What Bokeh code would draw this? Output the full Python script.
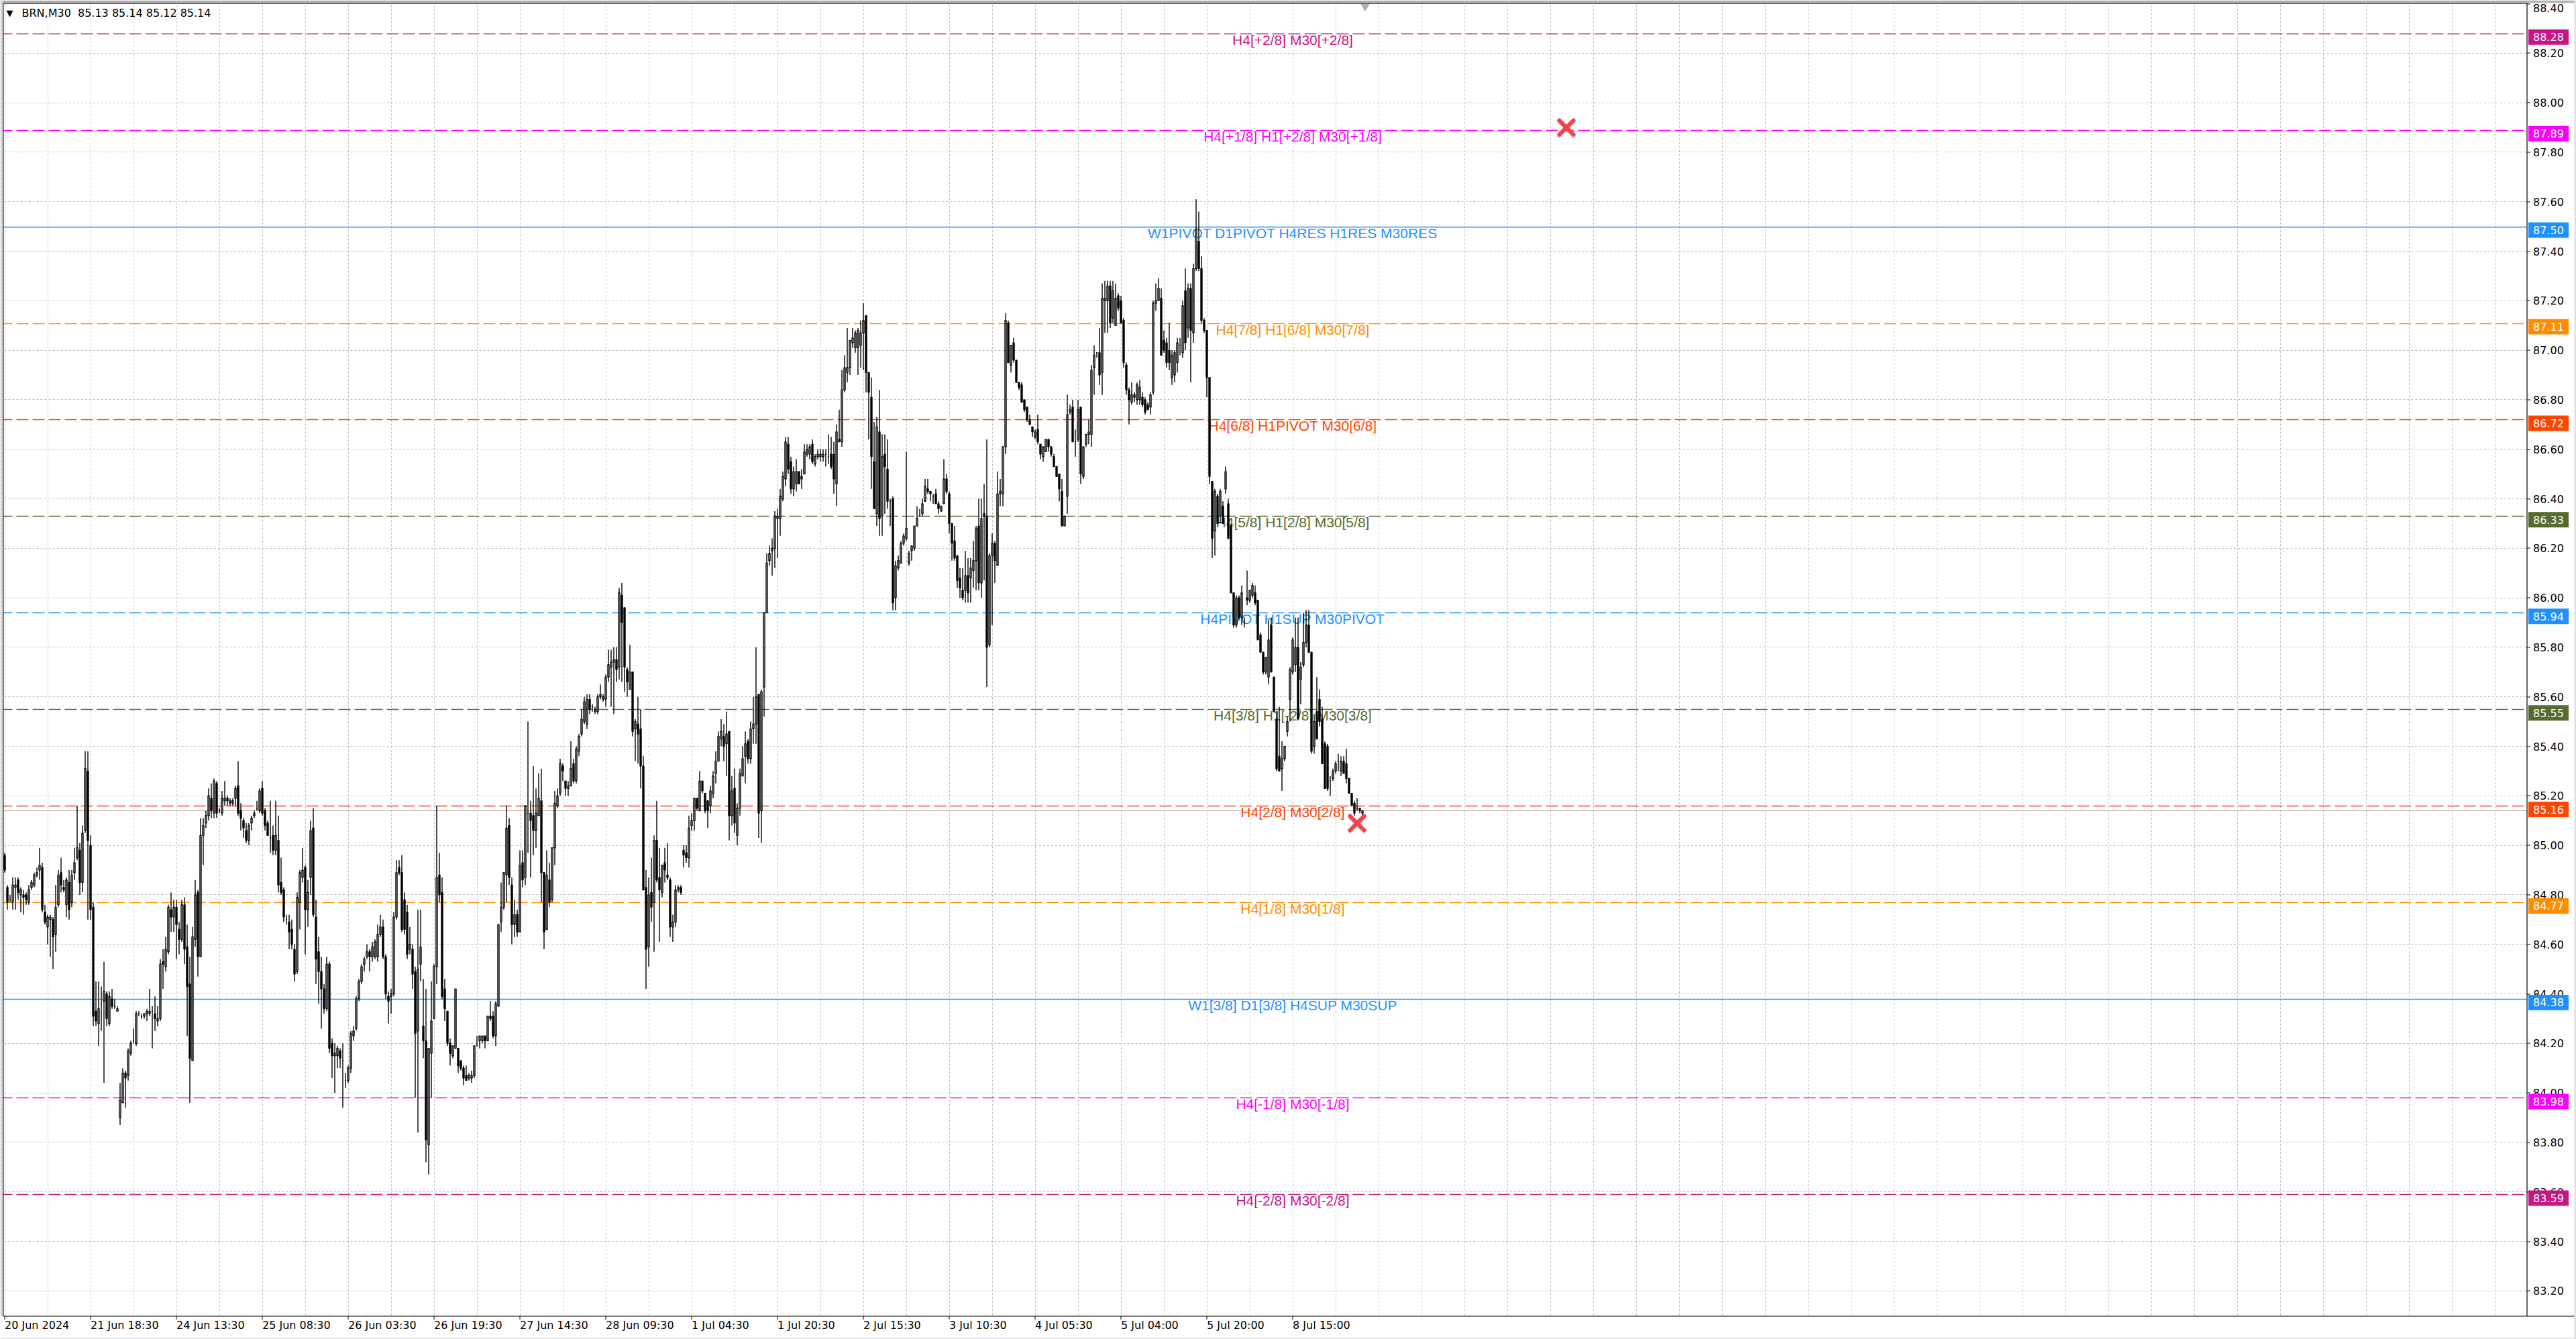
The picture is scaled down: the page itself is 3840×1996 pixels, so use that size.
from bokeh.plotting import figure
from bokeh.models import Range1d, FixedTicker, Grid, ColumnDataSource
from bokeh.core.properties import value
from bokeh.embed import file_html
from bokeh.resources import INLINE
import math

# ---------------- data (BRN, M30) ----------------
open_prices = [
    84.96, 84.83, 84.78, 84.77, 84.83, 84.86, 84.80, 84.80, 84.80, 84.77,
    84.83, 84.84, 84.88, 84.90, 84.91, 84.73, 84.67, 84.70, 84.70, 84.64,
    84.76, 84.89, 84.83, 84.76, 84.85, 84.77, 84.89, 84.95, 84.98, 84.85,
    85.06, 85.30, 85.00, 84.75, 84.33, 84.28, 84.36, 84.37, 84.40, 84.28,
    84.38, 84.35, 84.33, 83.90, 83.96, 84.08, 84.07, 84.16, 84.21, 84.20,
    84.32, 84.31, 84.31, 84.32, 84.32, 84.33, 84.32, 84.29, 84.30, 84.53,
    84.51, 84.57, 84.74, 84.71, 84.75, 84.66, 84.62, 84.76, 84.59, 84.44,
    84.13, 84.62, 84.81, 84.55, 85.04, 85.09, 85.12, 85.19, 85.13, 85.25,
    85.14, 85.13, 85.18, 85.19, 85.17, 85.17, 85.19, 85.24, 85.14, 85.10,
    85.06, 85.02, 85.09, 85.12, 85.15, 85.14, 85.23, 85.14, 85.09, 85.03,
    85.04, 84.98, 85.02, 84.85, 84.82, 84.70, 84.69, 84.66, 84.58, 84.49,
    84.77, 84.87, 84.91, 84.74, 84.87, 85.07, 84.71, 84.57, 84.49, 84.42,
    84.34, 84.52, 84.20, 84.15, 84.15, 84.17, 84.13, 84.05, 84.05, 84.10,
    84.23, 84.26, 84.38, 84.45, 84.52, 84.55, 84.57, 84.55, 84.55, 84.55,
    84.64, 84.67, 84.55, 84.39, 84.39, 84.40, 84.71, 84.91, 84.89, 84.78,
    84.73, 84.58, 84.58, 84.49, 84.25, 84.52, 84.27, 84.21, 83.79, 84.16,
    84.30, 84.51, 84.88, 84.81, 84.42, 84.33, 84.20, 84.15, 84.18, 84.18,
    84.13, 84.10, 84.07, 84.06, 84.06, 84.07, 84.19, 84.21, 84.21, 84.23,
    84.21, 84.31, 84.31, 84.23, 84.35, 84.69, 84.75, 84.88, 85.08, 84.84,
    84.68, 84.72, 84.65, 84.93, 84.87, 85.13, 85.13, 85.12, 85.06, 85.12,
    85.18, 84.89, 84.66, 84.86, 84.78, 84.99, 85.16, 85.21, 85.32, 85.26,
    85.23, 85.24, 85.33, 85.26, 85.38, 85.45, 85.50, 85.49, 85.59, 85.56,
    85.54, 85.54, 85.60, 85.59, 85.59, 85.68, 85.72, 85.74, 85.75, 85.72,
    86.01, 85.96, 85.71, 85.63, 85.70, 85.47, 85.49, 85.47, 85.32, 84.83,
    84.59, 84.81, 84.77, 85.02, 84.87, 84.81, 84.93, 84.88, 84.86, 84.67,
    84.69, 84.82, 84.83, 84.98, 84.97, 84.95, 85.08, 85.10, 85.19, 85.14,
    85.26, 85.21, 85.18, 85.16, 85.21, 85.29, 85.34, 85.43, 85.44, 85.41,
    85.46, 85.12, 85.23, 85.04, 85.15, 85.28, 85.36, 85.42, 85.35, 85.47,
    85.49, 85.61, 85.14, 85.64, 85.94, 86.15, 86.19, 86.20, 86.32, 86.32,
    86.40, 86.48, 86.62, 86.55, 86.44, 86.46, 86.51, 86.48, 86.50, 86.58,
    86.58, 86.62, 86.54, 86.57, 86.57, 86.57, 86.58, 86.57, 86.58, 86.58,
    86.46, 86.64, 86.63, 86.84, 86.91, 86.93, 87.03, 87.01, 87.01, 87.02,
    87.07, 87.14, 86.91, 86.81, 86.55, 86.34, 86.67, 86.33, 86.58, 86.52,
    86.39, 86.40, 86.00, 86.12, 86.14, 86.22, 86.24, 86.14, 86.19, 86.20,
    86.29, 86.33, 86.34, 86.39, 86.44, 86.43, 86.41, 86.42, 86.38, 86.35,
    86.38, 86.48, 86.42, 86.30, 86.23, 86.17, 86.08, 86.03, 86.03, 86.09,
    86.08, 86.11, 86.15, 86.29, 86.06, 86.34, 86.33, 85.81, 86.17, 86.22,
    86.13, 86.42, 86.42, 86.61, 87.11, 86.94, 87.03, 86.96, 86.87, 86.86,
    86.80, 86.77, 86.72, 86.69, 86.65, 86.68, 86.62, 86.57, 86.59, 86.64,
    86.61, 86.57, 86.53, 86.50, 86.43, 86.29, 86.41, 86.75, 86.77, 86.63,
    86.64, 86.77, 86.49, 86.62, 86.66, 86.66, 86.93, 86.99, 86.99, 86.91,
    87.20, 87.20, 87.26, 87.13, 87.10, 87.22, 87.20, 87.12, 86.94, 86.84,
    86.79, 86.81, 86.80, 86.80, 86.81, 86.80, 86.78, 86.77, 86.83, 87.19,
    87.20, 87.21, 87.04, 87.03, 87.00, 86.89, 86.90, 86.95, 87.02, 86.99,
    87.24, 87.09, 87.25, 87.07, 87.33, 87.44, 87.33, 87.12, 87.08, 86.89,
    86.47, 86.27, 86.41, 86.33, 86.37, 86.44, 86.38, 86.29, 86.02, 85.89,
    86.00, 85.92, 85.90, 86.00, 85.99, 86.01, 86.02, 85.99, 85.85, 85.78,
    85.70, 85.68, 85.89, 85.68, 85.51, 85.36, 85.31, 85.35, 85.46, 85.59,
    85.70, 85.73, 85.80, 85.67, 85.73, 85.82, 85.89, 85.78, 85.40, 85.54,
    85.59, 85.51, 85.41, 85.40, 85.26, 85.27, 85.30, 85.34, 85.30, 85.34,
    85.33, 85.27, 85.21, 85.17, 85.15, 85.15, 85.13,
]
high_prices = [
    84.97, 84.84, 84.80, 84.87, 84.87, 84.87, 84.83, 84.82, 84.81, 84.84,
    84.86, 84.89, 84.91, 84.99, 84.93, 84.76, 84.72, 84.72, 84.71, 84.84,
    84.90, 84.95, 84.86, 84.87, 84.90, 84.90, 84.99, 85.16, 85.01, 85.08,
    85.38, 85.38, 85.04, 84.77, 84.45, 84.45, 84.43, 84.53, 84.41, 84.41,
    84.42, 84.38, 84.35, 84.04, 84.10, 84.09, 84.18, 84.21, 84.26, 84.33,
    84.33, 84.32, 84.32, 84.34, 84.42, 84.35, 84.39, 84.35, 84.54, 84.58,
    84.63, 84.76, 84.81, 84.78, 84.78, 84.69, 84.78, 84.79, 84.68, 84.55,
    84.67, 84.86, 84.82, 85.11, 85.11, 85.14, 85.23, 85.25, 85.27, 85.26,
    85.15, 85.22, 85.26, 85.20, 85.19, 85.19, 85.24, 85.34, 85.17, 85.11,
    85.09, 85.09, 85.12, 85.14, 85.18, 85.23, 85.26, 85.15, 85.10, 85.18,
    85.08, 85.18, 85.12, 84.95, 84.83, 84.72, 84.72, 84.70, 84.60, 84.81,
    84.90, 84.99, 84.92, 84.86, 85.10, 85.15, 84.78, 84.63, 84.55, 84.44,
    84.55, 84.53, 84.22, 84.20, 84.19, 84.18, 84.20, 84.08, 84.11, 84.25,
    84.27, 84.39, 84.46, 84.52, 84.55, 84.60, 84.58, 84.61, 84.62, 84.68,
    84.72, 84.70, 84.56, 84.41, 84.42, 84.73, 84.94, 84.94, 84.96, 84.81,
    84.76, 84.67, 84.60, 84.51, 84.74, 84.74, 84.46, 84.42, 84.18, 84.45,
    84.52, 85.16, 84.97, 84.87, 84.46, 84.33, 84.22, 84.19, 84.42, 84.18,
    84.13, 84.11, 84.11, 84.08, 84.09, 84.19, 84.23, 84.23, 84.23, 84.23,
    84.31, 84.37, 84.33, 84.37, 84.68, 84.85, 84.89, 85.16, 85.11, 84.87,
    84.78, 84.74, 84.98, 84.98, 85.16, 85.50, 85.18, 85.32, 85.23, 85.29,
    85.31, 84.89, 84.98, 84.93, 84.99, 85.22, 85.23, 85.35, 85.33, 85.26,
    85.26, 85.42, 85.35, 85.40, 85.45, 85.55, 85.60, 85.61, 85.61, 85.57,
    85.56, 85.61, 85.65, 85.61, 85.69, 85.79, 85.79, 85.80, 85.80, 86.04,
    86.06, 85.96, 85.72, 85.81, 85.70, 85.51, 85.60, 85.55, 85.36, 84.90,
    84.87, 84.95, 85.04, 85.18, 84.99, 84.92, 84.99, 85.01, 84.87, 84.72,
    84.84, 84.84, 84.84, 85.00, 85.00, 85.12, 85.13, 85.19, 85.19, 85.30,
    85.26, 85.21, 85.18, 85.24, 85.30, 85.38, 85.46, 85.51, 85.49, 85.54,
    85.46, 85.28, 85.31, 85.17, 85.31, 85.40, 85.46, 85.43, 85.50, 85.60,
    85.80, 85.61, 85.63, 85.94, 86.18, 86.21, 86.24, 86.35, 86.36, 86.44,
    86.51, 86.65, 86.65, 86.57, 86.53, 86.56, 86.51, 86.52, 86.62, 86.62,
    86.62, 86.64, 86.58, 86.60, 86.60, 86.60, 86.60, 86.66, 86.65, 86.63,
    86.70, 86.76, 86.92, 86.98, 87.09, 87.04, 87.09, 87.08, 87.09, 87.12,
    87.19, 87.14, 86.91, 86.89, 86.71, 86.73, 86.84, 86.66, 86.66, 86.64,
    86.40, 86.41, 86.15, 86.17, 86.23, 86.26, 86.59, 86.19, 86.21, 86.29,
    86.37, 86.36, 86.40, 86.48, 86.48, 86.43, 86.42, 86.44, 86.39, 86.37,
    86.56, 86.50, 86.43, 86.30, 86.29, 86.17, 86.12, 86.12, 86.19, 86.16,
    86.16, 86.23, 86.29, 86.40, 86.40, 86.46, 86.64, 86.18, 86.26, 86.23,
    86.51, 86.48, 86.61, 87.15, 87.12, 87.02, 87.05, 86.96, 86.87, 86.87,
    86.80, 86.77, 86.74, 86.69, 86.68, 86.74, 86.62, 86.61, 86.64, 86.64,
    86.61, 86.58, 86.53, 86.50, 86.48, 86.33, 86.82, 86.78, 86.80, 86.68,
    86.80, 86.77, 86.61, 86.66, 86.72, 86.94, 87.02, 86.99, 87.09, 87.27,
    87.28, 87.28, 87.28, 87.28, 87.27, 87.23, 87.22, 87.13, 86.95, 86.85,
    86.87, 86.83, 86.87, 86.88, 86.83, 86.81, 86.79, 86.83, 87.20, 87.27,
    87.29, 87.25, 87.08, 87.05, 87.11, 87.00, 87.00, 87.05, 87.05, 87.20,
    87.33, 87.27, 87.27, 87.35, 87.61, 87.56, 87.38, 87.13, 87.08, 86.89,
    86.47, 86.44, 86.42, 86.44, 86.39, 86.53, 86.40, 86.30, 86.02, 86.01,
    86.01, 86.05, 85.92, 86.11, 86.03, 86.06, 86.05, 85.99, 85.86, 85.78,
    85.76, 85.91, 85.92, 85.68, 85.54, 85.56, 85.42, 85.40, 85.52, 85.72,
    85.84, 85.92, 85.92, 85.74, 85.94, 85.95, 85.95, 85.78, 85.53, 85.68,
    85.63, 85.56, 85.42, 85.41, 85.28, 85.31, 85.34, 85.37, 85.36, 85.36,
    85.39, 85.27, 85.21, 85.18, 85.19, 85.15, 85.14,
]
low_prices = [
    84.89, 84.74, 84.77, 84.74, 84.74, 84.78, 84.73, 84.72, 84.76, 84.76,
    84.82, 84.83, 84.87, 84.86, 84.73, 84.68, 84.60, 84.55, 84.50, 84.57,
    84.75, 84.81, 84.81, 84.71, 84.70, 84.75, 84.86, 84.94, 84.80, 84.81,
    85.05, 84.70, 84.70, 84.27, 84.27, 84.19, 84.25, 84.04, 84.27, 84.27,
    84.34, 84.34, 84.33, 83.87, 83.96, 83.94, 84.05, 84.15, 84.20, 84.19,
    84.31, 84.30, 84.30, 84.29, 84.31, 84.18, 84.25, 84.27, 84.29, 84.42,
    84.49, 84.56, 84.65, 84.65, 84.54, 84.56, 84.61, 84.52, 84.23, 83.96,
    84.13, 84.59, 84.47, 84.55, 84.92, 85.07, 85.10, 85.11, 85.11, 85.11,
    85.13, 85.12, 85.16, 85.16, 85.16, 85.16, 85.16, 85.12, 85.06, 85.03,
    85.01, 85.00, 85.06, 85.11, 85.14, 85.13, 85.12, 85.06, 85.04, 84.97,
    84.96, 84.96, 84.81, 84.80, 84.69, 84.68, 84.58, 84.58, 84.45, 84.48,
    84.66, 84.85, 84.56, 84.67, 84.80, 84.71, 84.44, 84.36, 84.26, 84.32,
    84.33, 84.16, 84.06, 84.00, 84.10, 84.10, 83.94, 84.02, 84.04, 84.08,
    84.21, 84.25, 84.37, 84.44, 84.49, 84.54, 84.49, 84.53, 84.54, 84.53,
    84.63, 84.54, 84.38, 84.28, 84.32, 84.39, 84.70, 84.88, 84.65, 84.64,
    84.54, 84.56, 84.42, 83.98, 83.84, 84.45, 84.14, 83.72, 83.67, 83.98,
    84.30, 84.44, 84.77, 84.38, 84.29, 84.19, 84.11, 84.14, 84.18, 84.08,
    84.09, 84.03, 84.05, 84.05, 84.04, 84.06, 84.19, 84.18, 84.20, 84.18,
    84.21, 84.29, 84.22, 84.19, 84.35, 84.65, 84.74, 84.77, 84.84, 84.60,
    84.63, 84.63, 84.65, 84.83, 84.84, 84.97, 84.87, 84.96, 84.99, 85.12,
    84.77, 84.58, 84.66, 84.75, 84.77, 84.92, 85.15, 85.20, 85.26, 85.20,
    85.20, 85.24, 85.25, 85.25, 85.36, 85.44, 85.49, 85.47, 85.53, 85.54,
    85.53, 85.53, 85.59, 85.58, 85.56, 85.66, 85.56, 85.53, 85.66, 85.67,
    85.66, 85.62, 85.60, 85.63, 85.44, 85.34, 85.33, 85.23, 84.82, 84.42,
    84.51, 84.69, 84.57, 84.85, 84.61, 84.79, 84.85, 84.86, 84.63, 84.61,
    84.67, 84.81, 84.80, 84.91, 84.93, 84.91, 85.06, 85.06, 85.14, 85.14,
    85.21, 85.13, 85.07, 85.13, 85.19, 85.25, 85.34, 85.40, 85.34, 85.28,
    85.02, 85.08, 85.05, 85.00, 85.12, 85.28, 85.25, 85.33, 85.33, 85.41,
    85.41, 85.03, 85.01, 85.52, 85.94, 86.13, 86.09, 86.12, 86.16, 86.25,
    86.39, 86.45, 86.50, 86.42, 86.41, 86.43, 86.46, 86.44, 86.50, 86.57,
    86.56, 86.54, 86.53, 86.56, 86.55, 86.55, 86.53, 86.54, 86.52, 86.42,
    86.37, 86.63, 86.61, 86.83, 86.87, 86.90, 87.01, 86.99, 86.90, 86.93,
    86.92, 86.83, 86.64, 86.44, 86.36, 86.29, 86.25, 86.25, 86.34, 86.36,
    86.29, 85.95, 85.95, 86.11, 86.14, 86.21, 86.23, 86.13, 86.15, 86.19,
    86.29, 86.33, 86.33, 86.39, 86.42, 86.39, 86.38, 86.38, 86.34, 86.35,
    86.38, 86.42, 86.26, 86.15, 86.15, 86.04, 86.00, 85.99, 85.98, 85.98,
    85.98, 86.04, 86.03, 86.03, 86.00, 86.07, 85.64, 85.80, 85.89, 86.06,
    86.13, 86.37, 86.37, 86.58, 86.95, 86.91, 86.95, 86.87, 86.84, 86.79,
    86.75, 86.71, 86.70, 86.65, 86.64, 86.62, 86.56, 86.55, 86.59, 86.59,
    86.57, 86.53, 86.49, 86.39, 86.29, 86.29, 86.34, 86.74, 86.63, 86.57,
    86.63, 86.46, 86.48, 86.61, 86.62, 86.61, 86.82, 86.97, 86.86, 86.82,
    87.07, 87.07, 87.09, 87.11, 87.10, 87.16, 87.11, 86.93, 86.82, 86.70,
    86.78, 86.79, 86.78, 86.78, 86.77, 86.74, 86.76, 86.74, 86.82, 87.16,
    87.20, 86.98, 86.99, 86.93, 86.92, 86.86, 86.87, 86.91, 86.98, 86.97,
    87.00, 87.05, 86.87, 87.03, 87.32, 87.32, 87.11, 87.07, 86.81, 86.46,
    86.16, 86.17, 86.30, 86.30, 86.30, 86.42, 86.24, 86.02, 85.88, 85.88,
    85.91, 85.89, 85.88, 85.97, 85.98, 86.00, 85.97, 85.83, 85.78, 85.69,
    85.69, 85.65, 85.70, 85.54, 85.30, 85.30, 85.22, 85.34, 85.44, 85.50,
    85.69, 85.70, 85.51, 85.57, 85.72, 85.80, 85.78, 85.37, 85.37, 85.43,
    85.48, 85.33, 85.23, 85.22, 85.20, 85.26, 85.29, 85.30, 85.28, 85.29,
    85.25, 85.21, 85.16, 85.12, 85.14, 85.13, 85.12,
]
close_prices = [
    84.90, 84.77, 84.78, 84.84, 84.84, 84.81, 84.82, 84.79, 84.78, 84.82,
    84.85, 84.88, 84.89, 84.92, 84.74, 84.69, 84.71, 84.71, 84.63, 84.75,
    84.88, 84.84, 84.82, 84.86, 84.74, 84.88, 84.93, 84.99, 84.85, 85.05,
    85.31, 85.02, 84.74, 84.31, 84.29, 84.34, 84.36, 84.41, 84.30, 84.39,
    84.35, 84.35, 84.34, 83.97, 84.08, 84.06, 84.17, 84.20, 84.21, 84.32,
    84.32, 84.31, 84.32, 84.33, 84.33, 84.33, 84.30, 84.30, 84.52, 84.52,
    84.58, 84.75, 84.71, 84.75, 84.68, 84.62, 84.76, 84.58, 84.43, 84.14,
    84.63, 84.80, 84.55, 85.04, 85.08, 85.12, 85.20, 85.14, 85.26, 85.13,
    85.14, 85.19, 85.19, 85.18, 85.18, 85.18, 85.23, 85.13, 85.11, 85.07,
    85.02, 85.08, 85.11, 85.13, 85.15, 85.22, 85.13, 85.08, 85.04, 85.03,
    84.98, 85.04, 84.84, 84.81, 84.71, 84.70, 84.65, 84.60, 84.48, 84.79,
    84.89, 84.90, 84.74, 84.81, 85.06, 84.72, 84.54, 84.49, 84.42, 84.34,
    84.52, 84.18, 84.15, 84.16, 84.18, 84.14, 84.13, 84.05, 84.10, 84.24,
    84.25, 84.38, 84.45, 84.51, 84.54, 84.57, 84.55, 84.59, 84.61, 84.64,
    84.67, 84.55, 84.40, 84.37, 84.40, 84.71, 84.89, 84.89, 84.66, 84.66,
    84.56, 84.60, 84.48, 84.24, 84.50, 84.59, 84.21, 83.81, 84.18, 84.29,
    84.51, 84.87, 84.80, 84.39, 84.34, 84.20, 84.16, 84.19, 84.42, 84.11,
    84.10, 84.06, 84.05, 84.07, 84.07, 84.19, 84.19, 84.23, 84.23, 84.21,
    84.31, 84.30, 84.23, 84.36, 84.68, 84.75, 84.89, 85.07, 84.87, 84.68,
    84.72, 84.65, 84.92, 84.86, 85.16, 85.13, 85.10, 85.06, 85.13, 85.19,
    84.89, 84.65, 84.88, 84.77, 84.99, 85.17, 85.20, 85.33, 85.30, 85.23,
    85.24, 85.31, 85.26, 85.39, 85.44, 85.51, 85.58, 85.59, 85.55, 85.56,
    85.55, 85.60, 85.61, 85.60, 85.68, 85.73, 85.74, 85.75, 85.71, 86.02,
    85.90, 85.72, 85.66, 85.70, 85.46, 85.50, 85.45, 85.32, 84.82, 84.58,
    84.80, 84.75, 85.02, 84.86, 84.82, 84.92, 84.90, 84.87, 84.67, 84.69,
    84.82, 84.83, 84.81, 84.96, 84.95, 85.07, 85.10, 85.19, 85.15, 85.26,
    85.22, 85.14, 85.14, 85.22, 85.28, 85.34, 85.44, 85.46, 85.40, 85.45,
    85.12, 85.22, 85.09, 85.15, 85.29, 85.35, 85.41, 85.35, 85.47, 85.49,
    85.60, 85.13, 85.62, 85.94, 86.14, 86.18, 86.20, 86.33, 86.33, 86.41,
    86.49, 86.63, 86.52, 86.44, 86.51, 86.51, 86.46, 86.49, 86.59, 86.60,
    86.61, 86.55, 86.57, 86.58, 86.58, 86.58, 86.58, 86.57, 86.53, 86.48,
    86.67, 86.63, 86.84, 86.93, 86.93, 87.04, 87.05, 87.07, 87.08, 87.07,
    87.12, 86.91, 86.83, 86.57, 86.36, 86.69, 86.32, 86.57, 86.53, 86.39,
    86.39, 85.98, 86.13, 86.15, 86.22, 86.25, 86.28, 86.18, 86.21, 86.29,
    86.32, 86.33, 86.38, 86.45, 86.43, 86.42, 86.41, 86.38, 86.36, 86.37,
    86.48, 86.43, 86.30, 86.22, 86.16, 86.07, 86.04, 86.00, 86.09, 86.02,
    86.12, 86.15, 86.28, 86.06, 86.32, 86.33, 85.80, 86.17, 86.22, 86.15,
    86.42, 86.43, 86.61, 87.12, 86.95, 87.02, 86.96, 86.87, 86.85, 86.79,
    86.76, 86.72, 86.70, 86.67, 86.67, 86.63, 86.58, 86.61, 86.64, 86.61,
    86.58, 86.53, 86.49, 86.44, 86.29, 86.33, 86.74, 86.76, 86.63, 86.63,
    86.76, 86.50, 86.61, 86.66, 86.67, 86.92, 86.98, 86.99, 86.90, 87.21,
    87.21, 87.26, 87.11, 87.24, 87.21, 87.17, 87.11, 86.95, 86.84, 86.80,
    86.82, 86.82, 86.86, 86.85, 86.78, 86.75, 86.76, 86.82, 87.19, 87.20,
    87.25, 86.98, 87.00, 86.95, 86.95, 86.98, 86.99, 87.03, 87.02, 87.18,
    87.03, 87.25, 87.08, 87.33, 87.49, 87.33, 87.12, 87.08, 86.89, 86.49,
    86.24, 86.43, 86.30, 86.43, 86.30, 86.51, 86.24, 86.02, 85.89, 86.00,
    85.92, 86.02, 85.90, 85.99, 86.03, 86.05, 85.98, 85.83, 85.78, 85.70,
    85.76, 85.83, 85.70, 85.54, 85.31, 85.30, 85.35, 85.40, 85.50, 85.71,
    85.83, 85.80, 85.51, 85.72, 85.82, 85.89, 85.78, 85.38, 85.50, 85.43,
    85.50, 85.33, 85.23, 85.23, 85.26, 85.30, 85.33, 85.34, 85.34, 85.29,
    85.27, 85.21, 85.16, 85.13, 85.15, 85.14, 85.14,
]

time_tick_bars = [0, 32, 64, 96, 128, 160, 192, 224, 256, 288, 320, 352, 384, 416, 448, 480]
time_tick_labels = ["20 Jun 2024", "21 Jun 18:30", "24 Jun 13:30", "25 Jun 08:30",
                    "26 Jun 03:30", "26 Jun 19:30", "27 Jun 14:30", "28 Jun 09:30",
                    "1 Jul 04:30", "1 Jul 20:30", "2 Jul 15:30", "3 Jul 10:30",
                    "4 Jul 05:30", "5 Jul 04:00", "5 Jul 20:00", "8 Jul 15:00"]

price_ticks = [83.20, 83.40, 83.60, 83.80, 84.00, 84.20, 84.40, 84.60, 84.80,
               85.00, 85.20, 85.40, 85.60, 85.80, 86.00, 86.20, 86.40, 86.60,
               86.80, 87.00, 87.20, 87.40, 87.60, 87.80, 88.00, 88.20, 88.40]

levels = [88.28, 87.89, 87.50, 87.11, 86.72, 86.33, 85.94, 85.55, 85.16, 84.77, 84.38, 83.98, 83.59]
level_names = ["H4[+2/8] M30[+2/8]", "H4[+1/8] H1[+2/8] M30[+1/8]",
               "W1PIVOT D1PIVOT H4RES H1RES M30RES", "H4[7/8] H1[6/8] M30[7/8]",
               "H4[6/8] H1PIVOT M30[6/8]", "H4[5/8] H1[2/8] M30[5/8]",
               "H4PIVOT H1SUP M30PIVOT", "H4[3/8] H1[-2/8] M30[3/8]",
               "H4[2/8] M30[2/8]", "H4[1/8] M30[1/8]",
               "W1[3/8] D1[3/8] H4SUP M30SUP", "H4[-1/8] M30[-1/8]", "H4[-2/8] M30[-2/8]"]
level_colors = ["#C71585", "#FF00FF", "#1E90FF", "#FF8C00", "#FF4500", "#556B2F", "#1E90FF",
                "#556B2F", "#FF4500", "#FF8C00", "#1E90FF", "#FF00FF", "#C71585"]
level_solid = [False, False, True, False, False, False, False, False, False, False, True, False, False]
LABEL_BAR = 480

signal_bars = [582, 504]
signal_prices = [87.90, 85.09]

# ---------------- layout (pixel geometry of the terminal window) ----------------
W, H = 3840, 1996
PX_PER_BAR = 4.0
PX_PER_PRICE = 369.0
PIX = 0.5                   # sub-pixel phase used for 1px lines
BAR0_PX = 6.0 + PIX         # centre of the first bar, px from the left
TOP_PX = 5.0                # px of the 88.40 price from the top
AXIS_PX_X = 3766.0 + PIX    # price-scale line
AXIS_PX_Y = 1961.0 + PIX    # time-scale line
FRAME_PX = 4.0 + PIX        # left / top frame line
X_START = -BAR0_PX / PX_PER_BAR
X_END = X_START + W / PX_PER_BAR
Y_END = 88.40 + TOP_PX / PX_PER_PRICE
Y_START = Y_END - H / PX_PER_PRICE
AXIS_X = X_START + AXIS_PX_X / PX_PER_BAR
AXIS_Y = Y_END - AXIS_PX_Y / PX_PER_PRICE
DX = 1.0 / PX_PER_BAR      # one pixel in bar units
DY = 1.0 / PX_PER_PRICE    # one pixel in price units
FRAME_X = X_START + FRAME_PX * DX
FRAME_Y = Y_END - FRAME_PX * DY
LEVEL_LW = 1.5
CANDLE_LW = 1.4


def snap(price):
    """place a horizontal line on the pixel grid"""
    py = (Y_END - price) * PX_PER_PRICE
    return Y_END - (math.floor(py) + PIX) / PX_PER_PRICE


N = len(close_prices)
bar_index = list(range(N))
highs = [max(h, o, c) for h, o, c in zip(high_prices, open_prices, close_prices)]
lows = [min(l, o, c) for l, o, c in zip(low_prices, open_prices, close_prices)]

p = figure(width=W, height=H, output_backend="svg", toolbar_location=None,
           x_range=Range1d(X_START, X_END), y_range=Range1d(Y_START, Y_END),
           x_axis_location=None, y_axis_location=None,
           min_border_left=0, min_border_right=0, min_border_top=0, min_border_bottom=0)
p.min_border = 0
p.background_fill_color = "white"
p.border_fill_color = "white"
p.outline_line_color = None
for g in p.grid:
    g.visible = False

# grid (dotted, light gray)
p.add_layout(Grid(dimension=0, ticker=FixedTicker(ticks=list(range(0, int(AXIS_X) + 1, 16))),
                  grid_line_color="#bcbcbc", grid_line_dash="3 3", grid_line_width=1))
p.add_layout(Grid(dimension=1, ticker=FixedTicker(ticks=price_ticks),
                  grid_line_color="#bcbcbc", grid_line_dash="3 3", grid_line_width=1))

# level lines
dash_src = ColumnDataSource(dict(y=[snap(v) for v, s in zip(levels, level_solid) if not s],
                                 c=[c for c, s in zip(level_colors, level_solid) if not s]))
solid_src = ColumnDataSource(dict(y=[snap(v) for v, s in zip(levels, level_solid) if s],
                                  c=[c for c, s in zip(level_colors, level_solid) if s]))
p.hspan(y="y", line_color="c", line_width=LEVEL_LW, line_dash="18 6", source=dash_src)
p.hspan(y="y", line_color="c", line_width=LEVEL_LW, source=solid_src)
# bid line
p.hspan(y=[snap(close_prices[-1])], line_color="#b0b0b0", line_width=1.2)

# level texts
p.text(x=[LABEL_BAR] * len(levels), y=[v + 2 * DY for v in levels], text=level_names,
       text_color=level_colors, text_font=value("Liberation Sans"), text_font_size=value("21px"),
       text_align="center", text_baseline="top")

# candles
up = [i for i in bar_index if close_prices[i] >= open_prices[i]]
dn = [i for i in bar_index if close_prices[i] < open_prices[i]]
p.segment(x0=bar_index, y0=highs, x1=bar_index, y1=lows, line_color="black", line_width=CANDLE_LW)
p.vbar(x=up, width=0.5, top=[close_prices[i] for i in up], bottom=[open_prices[i] for i in up],
       fill_color="white", line_color="black", line_width=CANDLE_LW)
p.vbar(x=dn, width=0.5, top=[open_prices[i] for i in dn], bottom=[close_prices[i] for i in dn],
       fill_color="black", line_color="black", line_width=CANDLE_LW)

# signals
p.scatter(x=signal_bars, y=[v - 2 * DY for v in signal_prices], marker="x", size=30,
          line_color="#a0a0a0", line_alpha=0.5, line_width=6, line_cap="round")
p.scatter(x=signal_bars, y=signal_prices, marker="x", size=30, line_color="#f2444a",
          line_width=6, line_cap="round")

# chart-shift marker
p.scatter(x=[N], y=[Y_END - 9 * DY], marker="inverted_triangle", size=14,
          fill_color="#b0b0b0", line_color=None)

# header
title = "BRN,M30\u00a0\u00a0%.2f %.2f %.2f %.2f" % (open_prices[-1], high_prices[-1],
                                                  low_prices[-1], close_prices[-1])
p.text(x=[X_START + 32 * DX], y=[Y_END - 19 * DY], text=[title],
       text_font=value("DejaVu Sans"), text_font_size=value("16px"), text_color="black",
       text_align="left", text_baseline="middle")
p.text(x=[X_START + 9 * DX], y=[Y_END - 19 * DY], text=["\u25bc"],
       text_font=value("DejaVu Sans"), text_font_size=value("13px"), text_color="black",
       text_align="left", text_baseline="middle")

# ---------------- scales (price scale on the right, time scale below) ----------------
# blank scale areas and window border
p.quad(left=[AXIS_X], right=[X_END], bottom=[Y_START], top=[Y_END],
       fill_color="white", line_color=None)
p.quad(left=[X_START], right=[X_END], bottom=[Y_START], top=[AXIS_Y],
       fill_color="white", line_color=None)
p.quad(left=[X_START], right=[X_END], bottom=[Y_END - 4 * DY], top=[Y_END],
       fill_color="#b4b4b4", line_color=None)
p.quad(left=[X_START], right=[X_START + 4 * DX], bottom=[AXIS_Y], top=[Y_END],
       fill_color="#d4d4d4", line_color=None)
p.quad(left=[X_END - 3 * DX], right=[X_END], bottom=[Y_START], top=[Y_END],
       fill_color="#e0e0e0", line_color=None)
p.quad(left=[X_START], right=[X_END], bottom=[Y_START], top=[Y_START + 2 * DY],
       fill_color="#e0e0e0", line_color=None)
# frame lines
p.segment(x0=[AXIS_X], y0=[FRAME_Y], x1=[AXIS_X], y1=[AXIS_Y], line_color="black", line_width=1.2)
p.segment(x0=[FRAME_X], y0=[AXIS_Y], x1=[X_END - 3 * DX], y1=[AXIS_Y], line_color="black", line_width=1.2)
p.segment(x0=[FRAME_X], y0=[FRAME_Y], x1=[AXIS_X], y1=[FRAME_Y], line_color="black", line_width=1)
p.segment(x0=[FRAME_X], y0=[FRAME_Y], x1=[FRAME_X], y1=[AXIS_Y], line_color="black", line_width=1)

# price ticks + labels
p.segment(x0=[AXIS_X] * len(price_ticks), y0=[snap(t) for t in price_ticks],
          x1=[AXIS_X + 5 * DX] * len(price_ticks), y1=[snap(t) for t in price_ticks],
          line_color="black", line_width=1)
p.text(x=[AXIS_X + 9 * DX] * len(price_ticks), y=[min(t, Y_END - 11 * DY) for t in price_ticks],
       text=["%.2f" % t for t in price_ticks], text_font=value("DejaVu Sans"),
       text_font_size=value("16px"), text_color="black", text_align="left", text_baseline="middle")

# time ticks + labels
p.segment(x0=time_tick_bars, y0=[AXIS_Y] * len(time_tick_bars),
          x1=time_tick_bars, y1=[AXIS_Y - 5 * DY] * len(time_tick_bars),
          line_color="black", line_width=1)
p.text(x=time_tick_bars, y=[AXIS_Y - 4 * DY] * len(time_tick_bars), text=time_tick_labels,
       text_font=value("DejaVu Sans"), text_font_size=value("16px"), text_color="black",
       text_align="left", text_baseline="top")

# price boxes for the levels
p.quad(left=[AXIS_X + 2 * DX] * len(levels), right=[AXIS_X + 62 * DX] * len(levels),
       top=[v + 6 * DY for v in levels], bottom=[v - 17 * DY for v in levels],
       fill_color=level_colors, line_color=None)
p.text(x=[AXIS_X + 9 * DX] * len(levels), y=[v - 5.5 * DY for v in levels],
       text=["%.2f" % v for v in levels], text_font=value("DejaVu Sans"),
       text_font_size=value("16px"), text_color="white", text_align="left", text_baseline="middle")

open("out.html", "w").write(file_html(p, INLINE))
